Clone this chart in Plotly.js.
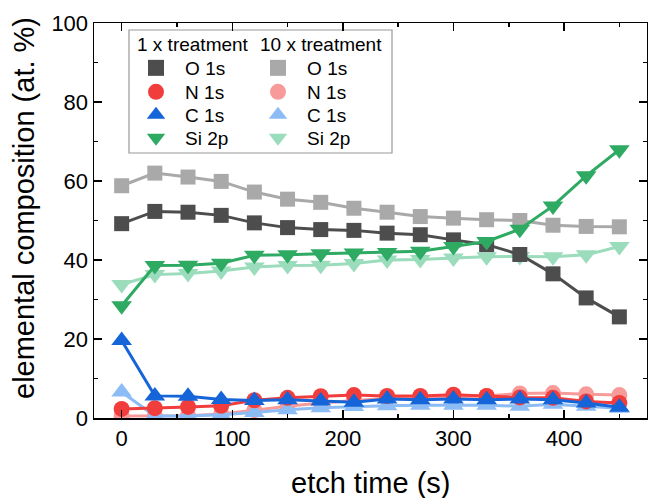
<!DOCTYPE html>
<html>
<head>
<meta charset="utf-8">
<script src="https://cdn.plot.ly/plotly-3.0.1.min.js"></script>
<style>html,body{margin:0;padding:0;background:#fff;}#chart{width:648px;height:498px;}</style>
</head>
<body>
<div id="chart"></div>
<script>
// etch time (s)
const etchTime = [0, 30, 60, 90, 120, 150, 180, 210, 240, 270, 300, 330, 360, 390, 420, 450];

// 1 x treatment (at. %)
const O1s_1x  = [49.2, 52.3, 52.1, 51.3, 49.4, 48.2, 47.7, 47.5, 46.8, 46.4, 45.1, 43.9, 41.4, 36.5, 30.4, 25.6];
const N1s_1x  = [2.3, 2.5, 2.8, 3.1, 4.5, 5.1, 5.5, 5.8, 5.6, 5.6, 5.9, 5.6, 5.2, 5.1, 4.2, 3.8];
const C1s_1x  = [19.6, 5.6, 5.5, 4.7, 4.4, 4.6, 4.3, 4.0, 4.8, 4.6, 4.8, 4.6, 4.8, 4.6, 3.8, 2.7];
const Si2p_1x = [28.4, 38.6, 38.7, 39.2, 41.2, 41.3, 41.6, 41.8, 41.9, 42.2, 43.4, 44.7, 47.8, 53.7, 61.3, 67.9];

// 10 x treatment (at. %)
const O1s_10x  = [58.8, 62.0, 61.0, 59.9, 57.2, 55.4, 54.6, 53.1, 52.1, 51.0, 50.6, 50.2, 50.0, 48.8, 48.5, 48.4];
const N1s_10x  = [0.5, 0.5, 0.6, 1.0, 2.0, 3.0, 3.8, 4.4, 5.0, 5.2, 5.4, 5.6, 6.2, 6.3, 6.0, 5.8];
const C1s_10x  = [6.6, 0.5, 0.5, 0.8, 1.4, 2.1, 2.6, 2.9, 3.1, 3.2, 3.2, 3.2, 3.0, 3.5, 3.0, 2.5];
const Si2p_10x = [33.8, 36.3, 36.6, 37.2, 38.2, 38.6, 38.7, 39.1, 40.0, 40.1, 40.5, 40.8, 40.9, 40.8, 41.3, 43.4];

const seriesNames = ['O 1s', 'N 1s', 'C 1s', 'Si 2p'];
const headers = ['1 x treatment', '10 x treatment'];
const xTitle = 'etch time (s)';
const yTitle = 'elemental composition (at. %)';

const symbols = ['square', 'circle', 'triangle-up', 'triangle-down'];
const sizes = [15, 16, 18, 18];
const colors1x = ['#4d4d4d', '#f23d3d', '#1565d8', '#2eaa63'];
const colors10x = ['#a9a9a9', '#f79a9a', '#8cbcf5', '#9adcbb'];

const data1x = [O1s_1x, N1s_1x, C1s_1x, Si2p_1x];
const data10x = [O1s_10x, N1s_10x, C1s_10x, Si2p_10x];

const FONT = 'Arial, "Liberation Sans", sans-serif';
const L = 94, R = 647, T = 23, B = 418;
const px = v => (v - L) / (R - L);
const py = v => (B - v) / (B - T);

const traces = [];
function addSeries(vals, color, sym, size) {
  traces.push({
    x: etchTime, y: vals, mode: 'lines+markers', showlegend: false,
    line: {color: color, width: 3},
    marker: {symbol: sym, size: size, color: color}
  });
}
for (let i = 0; i < 4; i++) addSeries(data10x[i], colors10x[i], symbols[i], sizes[i]);
for (let i = 0; i < 4; i++) addSeries(data1x[i], colors1x[i], symbols[i], sizes[i]);

const layout = {
  width: 648, height: 498,
  margin: {l: L, r: 648 - R, t: T, b: 498 - B, pad: 0},
  paper_bgcolor: '#fff', plot_bgcolor: '#fff',
  font: {family: FONT, color: '#000'},
  xaxis: {
    range: [-25, 475], showgrid: false, zeroline: false,
    showline: true, linecolor: '#000', linewidth: 1.5, mirror: 'allticks',
    ticks: 'inside', ticklen: 8, tickwidth: 1.5, tickcolor: '#000',
    tick0: 0, dtick: 100,
    minor: {dtick: 50, ticks: 'inside', ticklen: 4, tickwidth: 1.5, tickcolor: '#000'},
    tickfont: {family: FONT, size: 22, color: '#000'}
  },
  yaxis: {
    range: [0, 100], showgrid: false, zeroline: false,
    showline: true, linecolor: '#000', linewidth: 1.5, mirror: 'allticks',
    ticks: 'inside', ticklen: 8, tickwidth: 1.5, tickcolor: '#000',
    tick0: 0, dtick: 20,
    minor: {dtick: 10, ticks: 'inside', ticklen: 4, tickwidth: 1.5, tickcolor: '#000'},
    tickfont: {family: FONT, size: 22, color: '#000'}
  },
  shapes: [{
    type: 'rect', xref: 'paper', yref: 'paper',
    x0: px(129), x1: px(392), y0: py(153), y1: py(30),
    line: {color: '#999', width: 1.2}, fillcolor: 'rgba(0,0,0,0)', layer: 'below'
  }],
  annotations: [
    {xref: 'paper', yref: 'paper', x: px(135), y: py(45), xanchor: 'left', yanchor: 'middle',
     text: headers[0], showarrow: false, font: {family: FONT, size: 19, color: '#000'}},
    {xref: 'paper', yref: 'paper', x: px(258), y: py(45), xanchor: 'left', yanchor: 'middle',
     text: headers[1], showarrow: false, font: {family: FONT, size: 19, color: '#000'}},
    {xref: 'paper', yref: 'paper', x: px(371), y: py(483), xanchor: 'center', yanchor: 'middle',
     text: xTitle, showarrow: false, font: {family: FONT, size: 29, color: '#000'}},
    {xref: 'paper', yref: 'paper', x: px(24), y: py(208), xanchor: 'center', yanchor: 'middle',
     text: yTitle, textangle: -90, showarrow: false, font: {family: FONT, size: 29, color: '#000'}}
  ]
};

// one legend per entry, so each row sits exactly where the reference puts it
const rowY = [68, 92, 115, 138];
const colSym = [156, 278];
const ITEMW = 30;
let legIdx = 0;
[colors1x, colors10x].forEach((cols, c) => {
  for (let i = 0; i < 4; i++) {
    legIdx++;
    const key = legIdx === 1 ? 'legend' : 'legend' + legIdx;
    traces.push({x: [null], y: [null], mode: 'markers', name: '\u00a0\u2009' + seriesNames[i], legend: key,
      marker: {symbol: symbols[i], size: 16, color: cols[i]}});
    layout[key] = {
      x: px(colSym[c] - (ITEMW / 2 + 5)), y: py(rowY[i]), xanchor: 'left', yanchor: 'middle',
      bgcolor: 'rgba(0,0,0,0)', borderwidth: 0, itemwidth: ITEMW,
      font: {family: FONT, size: 19, color: '#000'}
    };
  }
});

Plotly.newPlot('chart', traces, layout, {displayModeBar: false, staticPlot: true});
</script>
</body>
</html>
